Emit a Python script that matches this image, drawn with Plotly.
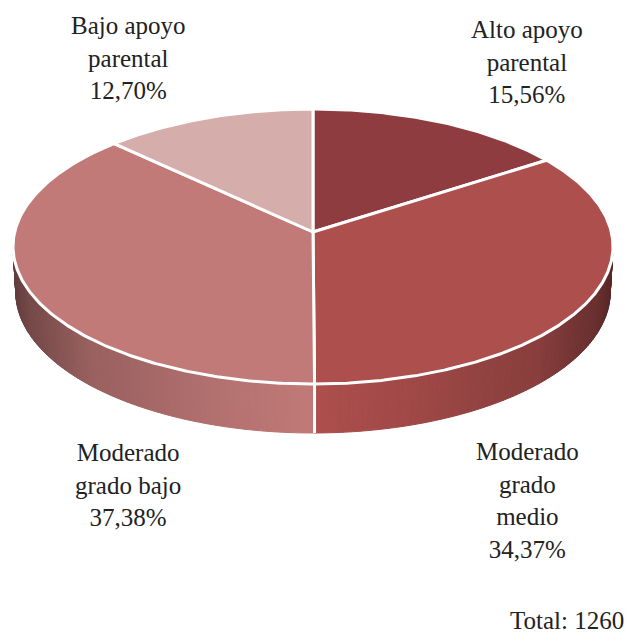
import numpy as np
import plotly.graph_objects as go

# ---------------- data ----------------
categories = ["Alto apoyo parental", "Moderado grado medio",
              "Moderado grado bajo", "Bajo apoyo parental"]
label_lines = ["Alto apoyo<br>parental", "Moderado<br>grado<br>medio",
               "Moderado<br>grado bajo", "Bajo apoyo<br>parental"]
values = [15.56, 34.37, 37.38, 12.70]
total_n = 1260

# ---------------- style ----------------
colors = ["#8E3C40", "#AD4F4D", "#C17A78", "#D5ADAA"]
WIN_W, WIN_H = 635, 641
OFF = 8  # page body margin compensation
W, Hpx = WIN_W - 2 * OFF, WIN_H - 2 * OFF
CX, CY = 313.0, 232.0          # centre of the top face on screen
TOP_OFF, BOT_OFF, HALF_W, SIDE_BOT = 123.0, 152.0, 300.0, 201.0

# solve a simple perspective camera from the layout constants
k = (1 + TOP_OFF / BOT_OFF) / (1 - TOP_OFF / BOT_OFF)
se = (TOP_OFF / HALF_W) / np.sqrt((k - 1) / (k + 1))
ce = np.sqrt(1 - se ** 2)
D = ce * k
F = HALF_W * ce * np.sqrt(k ** 2 - 1)
THK = (SIDE_BOT * (D - ce) - F * se) / (F * ce - SIDE_BOT * se)


def proj(theta_deg, Y):
    t = np.radians(theta_deg)
    X = np.sin(t)
    Z = -np.cos(t)
    v = Y * ce - Z * se
    depth = D - Z * ce - Y * se
    return CX + F * X / depth, CY - F * v / depth


def hex2rgb(h):
    h = h.lstrip("#")
    return np.array([int(h[i:i + 2], 16) for i in (0, 2, 4)], float)


shade_x = [0.0, 0.35, 0.55, 0.75, 0.87, 0.95, 1.0]
shade_f = [1.0, 0.92, 0.85, 0.79, 0.67, 0.60, 0.50]


def shaded(hexcol, nx):
    f = np.interp(abs(nx), shade_x, shade_f)
    c = np.clip(hex2rgb(hexcol) * f, 0, 255).astype(int)
    return "rgb(%d,%d,%d)" % tuple(c)


tot = sum(values)
bounds = np.concatenate([[0], np.cumsum(values)]) / tot * 360.0

fig = go.Figure()

# ---------------- side wall ----------------
quads = []
for i, col in enumerate(colors):
    a0, a1 = max(bounds[i], 70.0), min(bounds[i + 1], 290.0)
    if a1 <= a0:
        continue
    n = max(2, int(np.ceil((a1 - a0) / 0.8)))
    th = np.linspace(a0, a1, n + 1)
    for j in range(n):
        t0, t1 = th[j], th[j + 1]
        x0t, y0t = proj(t0, 0)
        x1t, y1t = proj(t1, 0)
        x1b, y1b = proj(t1, -THK)
        x0b, y0b = proj(t0, -THK)
        tm = 0.5 * (t0 + t1)
        xm, _ = proj(tm, 0)
        nx = (xm - CX) / HALF_W
        zdepth = -np.cos(np.radians(tm))
        quads.append((zdepth, [x0t, x1t, x1b, x0b, x0t],
                      [y0t, y1t, y1b, y0b, y0t], shaded(col, nx)))
quads.sort(key=lambda q: q[0])
for _, xs, ys, c in quads:
    fig.add_trace(go.Scatter(x=xs, y=ys, mode="lines", fill="toself",
                             fillcolor=c, line=dict(color=c, width=1),
                             hoverinfo="skip", showlegend=False))

# white separators on the visible side
for b in bounds[1:-1]:
    if 90 < b < 270:
        xt, yt = proj(b, 0)
        xb, yb = proj(b, -THK)
        fig.add_trace(go.Scatter(x=[xt, xb], y=[yt, yb], mode="lines",
                                 line=dict(color="white", width=3),
                                 hoverinfo="skip", showlegend=False))

# ---------------- top face ----------------
for i, col in enumerate(colors):
    th = np.linspace(bounds[i], bounds[i + 1],
                     max(3, int((bounds[i + 1] - bounds[i]) / 0.5)))
    ax, ay = proj(th, 0)
    xs = np.concatenate([[CX], ax, [CX]])
    ys = np.concatenate([[CY], ay, [CY]])
    fig.add_trace(go.Scatter(x=xs, y=ys, mode="lines", fill="toself",
                             fillcolor=col, line=dict(color="white", width=3),
                             name=categories[i], hoverinfo="skip",
                             showlegend=False))

# ---------------- labels ----------------
label_pos = [(527, 62), (527, 500), (128, 485), (128, 58)]
font = dict(family="Liberation Serif, DejaVu Serif, Times New Roman, serif",
            size=25, color="#222222")
for i in range(len(values)):
    txt = label_lines[i] + "<br>" + ("%.2f" % values[i]).replace(".", ",") + "%"
    fig.add_annotation(x=label_pos[i][0], y=label_pos[i][1], text=txt,
                       showarrow=False, xanchor="center", yanchor="middle",
                       align="center", font=font)
fig.add_annotation(x=626, y=620, text="Total: %d" % total_n, showarrow=False,
                   xanchor="right", yanchor="middle", font=font)

fig.update_layout(
    width=W, height=Hpx, margin=dict(l=0, r=0, t=0, b=0),
    paper_bgcolor="white", plot_bgcolor="white",
    font=font,
    xaxis=dict(range=[OFF, OFF + W], visible=False, fixedrange=True),
    yaxis=dict(range=[OFF + Hpx, OFF], visible=False, fixedrange=True),
)
fig.write_html("out.html")
